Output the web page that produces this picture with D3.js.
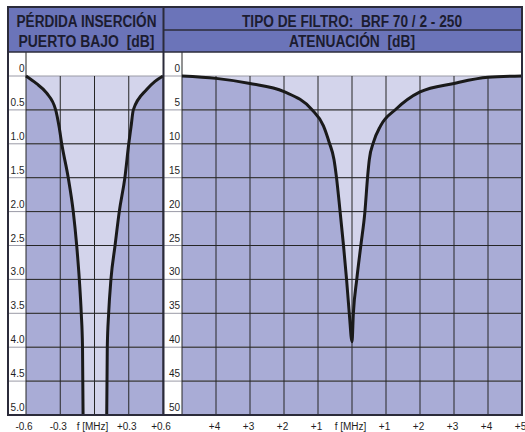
<!DOCTYPE html>
<html>
<head>
<meta charset="utf-8">
<script src="https://cdn.jsdelivr.net/npm/d3@7"></script>
<style>
  html, body { margin: 0; padding: 0; background: #fff; }
  svg { display: block; }
  .hdr { font-family: 'Liberation Sans Narrow', 'Arial Narrow', 'Liberation Sans', Arial, sans-serif; font-weight: bold; font-size: 16px; fill: #1c1c30; white-space: pre; }
  .lbl { font-family: 'Liberation Sans', Arial, sans-serif; font-size: 10px; fill: #1e1e1e; }
</style>
</head>
<body>
<script>
'use strict'

// left panel: insertion loss, low port
var ilLowFreq = [-0.6, -0.51, -0.42, -0.34, -0.31, -0.287, -0.23, -0.186, -0.156, -0.133, -0.116, -0.105, -0.1]
var ilLowDb = [0, 0.11, 0.25, 0.5, 0.75, 1.0, 1.5, 2.0, 2.5, 3.0, 3.5, 4.0, 5.0]
var ilHighFreq = [0.107, 0.112, 0.124, 0.144, 0.18, 0.217, 0.266, 0.3, 0.32, 0.34, 0.457, 0.53, 0.6]
var ilHighDb = [5.0, 4.0, 3.5, 3.0, 2.5, 2.0, 1.5, 1.0, 0.75, 0.5, 0.2, 0.08, 0]

// right panel: attenuation of the notch
var attFreq = [-5, -4, -3, -2, -1.19, -0.84, -0.67, -0.53, -0.46, -0.35, -0.25, -0.16, -0.08, 0, 0.04, 0.14, 0.26, 0.38, 0.46, 0.51, 0.63, 0.84, 1.29, 2, 3, 4, 5]
var attDb = [0, 0.35, 1.1, 2.3, 4.9, 7.35, 9.8, 12.3, 14.8, 20, 25, 30, 35, 39.2, 35, 30, 25, 20, 14.8, 12.3, 9.8, 7.35, 4.9, 2.35, 1.1, 0.2, 0]

var ilTicks = [0, 0.5, 1.0, 1.5, 2.0, 2.5, 3.0, 3.5, 4.0, 4.5, 5.0]
var attTicks = [0, 5, 10, 15, 20, 25, 30, 35, 40, 45, 50]
var ilFreqTicks = [-0.6, -0.3, 0, 0.3, 0.6]
var ilFreqLabels = ['-0.6', '-0.3', 'f [MHz]', '+0.3', '+0.6']
var attFreqTicks = [-5, -4, -3, -2, -1, 0, 1, 2, 3, 4, 5]
var attFreqLabels = ['', '+4', '+3', '+2', '+1', 'f [MHz]', '+1', '+2', '+3', '+4', '+5']

var titleLeft = ['PÉRDIDA INSERCIÓN', 'PUERTO BAJO  [dB]']
var titleRight = ['TIPO DE FILTRO:  BRF 70 / 2 - 250', 'ATENUACIÓN  [dB]']

var colHead = '#6b74b9'
var colDark = '#a9acd6'
var colLight = '#d3d4eb'
var colGrid = '#262626'

var W = 525
var H = 432
var frame = { left: 8, top: 7, right: 522, bottom: 415, split: 163.5, head: 52, row: 30 }

var xL = d3.scaleLinear().domain([-0.6, 0.6]).range([26, 163])
var xR = d3.scaleLinear().domain([-5, 5]).range([182, 522])
var yL = d3.scaleLinear().domain([0, 5]).range([76, 415])
var yR = d3.scaleLinear().domain([0, 50]).range([76, 415])

var svg = d3.select('body').append('svg')
  .attr('width', W)
  .attr('height', H)

svg.append('rect').attr('width', W).attr('height', H).attr('fill', '#fff')

// header band
svg.append('rect')
  .attr('x', frame.left).attr('y', frame.top)
  .attr('width', frame.right - frame.left).attr('height', frame.head - frame.top)
  .attr('fill', colHead)

// left plot fills
svg.append('rect')
  .attr('x', xL(-0.6)).attr('y', yL(0))
  .attr('width', xL(0.6) - xL(-0.6)).attr('height', yL(5) - yL(0))
  .attr('fill', colDark)

var lowPts = ilLowFreq.map(function (f, i) { return [f, ilLowDb[i]] })
var highPts = ilHighFreq.map(function (f, i) { return [f, ilHighDb[i]] })
var lineL = d3.line()
  .x(function (d) { return xL(d[0]) })
  .y(function (d) { return yL(d[1]) })
  .curve(d3.curveMonotoneX)

svg.append('path')
  .attr('d', lineL(lowPts) + lineL(highPts).replace(/^M/, 'L') + 'Z')
  .attr('fill', colLight)

// right plot fills
svg.append('rect')
  .attr('x', xR(-5)).attr('y', yR(0))
  .attr('width', xR(5) - xR(-5)).attr('height', yR(50) - yR(0))
  .attr('fill', colDark)

var attPts = attFreq.map(function (f, i) { return [f, attDb[i]] })
svg.append('path')
  .datum(attPts)
  .attr('d', d3.area()
    .x(function (d) { return xR(d[0]) })
    .y0(yR(0))
    .y1(function (d) { return yR(d[1]) })
    .curve(d3.curveMonotoneX))
  .attr('fill', colLight)

// horizontal grid, light in the label columns, dark in the plots
var hGrid = svg.append('g')
hGrid.selectAll('line.lab')
  .data(ilTicks)
  .enter().append('line')
  .attr('class', 'lab')
  .attr('x1', frame.left).attr('x2', frame.right)
  .attr('y1', function (d) { return yL(d) }).attr('y2', function (d) { return yL(d) })
  .attr('stroke', '#9a9aa6').attr('stroke-width', 1)
hGrid.selectAll('line.pl')
  .data(ilTicks.slice(1))
  .enter().append('line')
  .attr('class', 'pl')
  .attr('x1', xL(-0.6)).attr('x2', xL(0.6))
  .attr('y1', function (d) { return yL(d) }).attr('y2', function (d) { return yL(d) })
  .attr('stroke', colGrid).attr('stroke-width', 1)
hGrid.selectAll('line.pr')
  .data(attTicks.slice(1))
  .enter().append('line')
  .attr('class', 'pr')
  .attr('x1', xR(-5)).attr('x2', xR(5))
  .attr('y1', function (d) { return yR(d) }).attr('y2', function (d) { return yR(d) })
  .attr('stroke', colGrid).attr('stroke-width', 1)

// vertical grid
svg.append('g').selectAll('line')
  .data(ilFreqTicks)
  .enter().append('line')
  .attr('x1', function (d) { return xL(d) }).attr('x2', function (d) { return xL(d) })
  .attr('y1', function (d) { return d === -0.6 ? frame.head : yL(0) })
  .attr('y2', yL(5))
  .attr('stroke', colGrid).attr('stroke-width', 1)
svg.append('g').selectAll('line')
  .data(attFreqTicks)
  .enter().append('line')
  .attr('x1', function (d) { return xR(d) }).attr('x2', function (d) { return xR(d) })
  .attr('y1', function (d) { return d === -5 ? frame.head : yR(0) })
  .attr('y2', yR(50))
  .attr('stroke', colGrid).attr('stroke-width', 1)

// curves
svg.append('path').datum(lowPts).attr('d', lineL)
  .attr('fill', 'none').attr('stroke', '#1a1a1a').attr('stroke-width', 3)
svg.append('path').datum(highPts).attr('d', lineL)
  .attr('fill', 'none').attr('stroke', '#1a1a1a').attr('stroke-width', 3)
svg.append('path').datum(attPts)
  .attr('d', d3.line()
    .x(function (d) { return xR(d[0]) })
    .y(function (d) { return yR(d[1]) })
    .curve(d3.curveMonotoneX))
  .attr('fill', 'none').attr('stroke', '#1a1a1a').attr('stroke-width', 3)
  .attr('stroke-linejoin', 'round')

// frame and header rules
var rules = svg.append('g').attr('stroke', '#2b2b3a').attr('fill', 'none')
rules.append('rect')
  .attr('x', frame.left).attr('y', frame.top)
  .attr('width', frame.right - frame.left).attr('height', frame.bottom - frame.top)
  .attr('stroke-width', 2)
rules.append('line')
  .attr('x1', frame.split).attr('x2', frame.split)
  .attr('y1', frame.top).attr('y2', frame.bottom)
  .attr('stroke-width', 2)
rules.append('line')
  .attr('x1', frame.left).attr('x2', frame.right)
  .attr('y1', frame.head).attr('y2', frame.head)
  .attr('stroke-width', 1.5)
rules.append('line')
  .attr('x1', frame.split).attr('x2', frame.right)
  .attr('y1', frame.row).attr('y2', frame.row)
  .attr('stroke-width', 1.5)

// header texts
var hdrLeft = [140, 136]
var hdrRight = [220, 126]
var baselines = [27, 46.5]
svg.selectAll('text.hl')
  .data(titleLeft)
  .enter().append('text')
  .attr('class', 'hdr hl')
  .attr('x', 86.5).attr('y', function (d, i) { return baselines[i] })
  .attr('text-anchor', 'middle')
  .attr('textLength', function (d, i) { return hdrLeft[i] })
  .attr('lengthAdjust', 'spacingAndGlyphs')
  .text(function (d) { return d })
svg.selectAll('text.hr')
  .data(titleRight)
  .enter().append('text')
  .attr('class', 'hdr hr')
  .attr('x', xR(0)).attr('y', function (d, i) { return baselines[i] })
  .attr('text-anchor', 'middle')
  .attr('textLength', function (d, i) { return hdrRight[i] })
  .attr('lengthAdjust', 'spacingAndGlyphs')
  .text(function (d) { return d })

// y labels, sitting just above their grid line
svg.selectAll('text.yl')
  .data(ilTicks)
  .enter().append('text')
  .attr('class', 'lbl yl')
  .attr('x', 24.5).attr('y', function (d) { return yL(d) - 4 })
  .attr('text-anchor', 'end')
  .text(function (d) { return d === 0 ? '0' : d3.format('.1f')(d) })
svg.selectAll('text.yr')
  .data(attTicks)
  .enter().append('text')
  .attr('class', 'lbl yr')
  .attr('x', 180).attr('y', function (d) { return yR(d) - 4 })
  .attr('text-anchor', 'end')
  .text(function (d) { return d })

// x labels
svg.selectAll('text.xl')
  .data(ilFreqTicks)
  .enter().append('text')
  .attr('class', 'lbl xl')
  .attr('x', function (d) { return xL(d) - 2 }).attr('y', 430)
  .attr('text-anchor', 'middle')
  .text(function (d, i) { return ilFreqLabels[i] })
svg.selectAll('text.xr')
  .data(attFreqTicks)
  .enter().append('text')
  .attr('class', 'lbl xr')
  .attr('x', function (d) { return xR(d) - 1.5 }).attr('y', 430)
  .attr('text-anchor', 'middle')
  .text(function (d, i) { return attFreqLabels[i] })
</script>
</body>
</html>
